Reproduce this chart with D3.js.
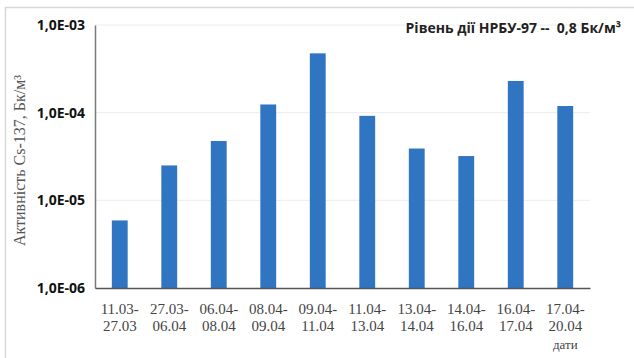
<!DOCTYPE html>
<html><head><meta charset="utf-8">
<script src="https://cdn.jsdelivr.net/npm/d3@7"></script>
<style>body{margin:0;background:#fff}svg{display:block}</style>
</head><body>
<script>
const categories = [["11.03-","27.03"],["27.03-","06.04"],["06.04-","08.04"],["08.04-","09.04"],["09.04-","11.04"],["11.04-","13.04"],["13.04-","14.04"],["14.04-","16.04"],["16.04-","17.04"],["17.04-","20.04"]];
const values = [5.9e-6, 2.5e-5, 4.75e-5, 1.24e-4, 4.75e-4, 9.2e-5, 3.9e-5, 3.2e-5, 2.3e-4, 1.19e-4];
const yTicks = [1e-6, 1e-5, 1e-4, 1e-3];
const yTickLabels = ["1,0E-06","1,0E-05","1,0E-04","1,0E-03"];
const yTitle = "Активність Cs-137, Бк/м³";
const xTitle = "дати";
const note = "Рівень дії НРБУ-97 --  0,8 Бк/м³";

const W = 634, H = 358;
const m = {l: 95, r: 44, t: 25, b: 70};
const svg = d3.select("body").append("svg").attr("width", W).attr("height", H);

// frame
svg.append("line").attr("x1",5.5).attr("x2",5.5).attr("y1",7).attr("y2",H).attr("stroke","#d8d8d8").attr("stroke-width",1.5);
svg.append("line").attr("x1",5).attr("x2",W).attr("y1",7.5).attr("y2",7.5).attr("stroke","#d8d8d8").attr("stroke-width",1.5);

const x = d3.scaleBand().domain(d3.range(categories.length)).range([m.l, W - m.r]).paddingInner(0.68).paddingOuter(0.34);
const y = d3.scaleLog().domain([1e-6, 1e-3]).range([H - m.b, m.t]);

// gridlines
svg.append("g").selectAll("line").data(yTicks.slice(1)).join("line")
  .attr("x1", m.l).attr("x2", W - m.r)
  .attr("y1", d => y(d)).attr("y2", d => y(d))
  .attr("stroke", "#ececec").attr("stroke-width", 1);

// bars
svg.append("g").selectAll("rect").data(values).join("rect")
  .attr("x", (d,i) => x(i)).attr("width", x.bandwidth())
  .attr("y", d => y(d)).attr("height", d => y(1e-6) - y(d))
  .attr("fill", "#2f75c2");

// y axis
const ya = svg.append("g").attr("transform", `translate(${m.l},0)`)
  .call(d3.axisLeft(y).tickValues(yTicks).tickFormat((d,i) => yTickLabels[i]).tickSize(0).tickPadding(10));
ya.select(".domain").attr("stroke", "#7a7a7a").attr("stroke-width", 1.5);
ya.selectAll("text").attr("font-family", "'Open Sans', sans-serif").attr("font-weight", "bold").attr("font-size", 14).attr("fill", "#111");

// x axis
const xa = svg.append("g").attr("transform", `translate(0,${H - m.b})`)
  .call(d3.axisBottom(x).tickSize(0).tickFormat(""));
xa.select(".domain").attr("stroke", "#555").attr("stroke-width", 1.5);
xa.selectAll(".tick").each(function(d) {
  const t = d3.select(this).append("text").attr("fill", "#444")
    .attr("font-family", "'Liberation Serif', 'DejaVu Serif', serif").attr("font-size", 15)
    .attr("text-anchor", "middle");
  t.append("tspan").attr("x", 0).attr("y", 26).text(categories[d][0]);
  t.append("tspan").attr("x", 0).attr("y", 43).text(categories[d][1]);
});

// x title
svg.append("text").attr("x", x(9) + x.bandwidth()/2).attr("y", H - 9)
  .attr("text-anchor", "middle").attr("fill", "#444")
  .attr("font-family", "'Liberation Serif', serif").attr("font-size", 13).text(xTitle);

// y title
svg.append("text").attr("transform", `translate(25,${(y(1e-6)+y(1e-3))/2 + 4}) rotate(-90)`)
  .attr("text-anchor", "middle").attr("fill", "#555")
  .attr("font-family", "'Liberation Serif', serif").attr("font-size", 16).text(yTitle);

// note
svg.append("text").attr("x", 621).attr("y", 33).attr("text-anchor", "end")
  .attr("xml:space", "preserve").style("white-space", "pre")
  .attr("fill", "#222").attr("font-family", "'Open Sans', sans-serif").attr("font-weight", "bold").attr("font-size", 14)
  .text(note);
</script>
</body></html>
